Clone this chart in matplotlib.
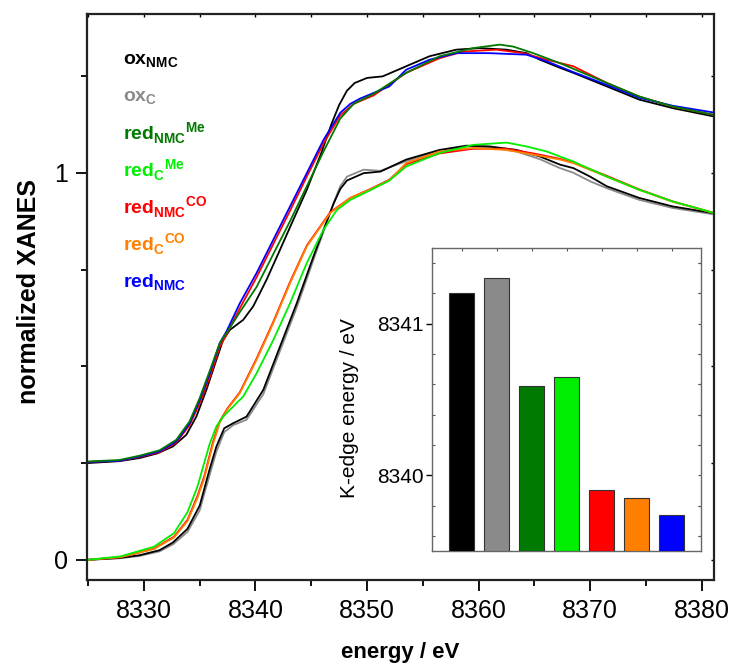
import matplotlib
matplotlib.use("Agg")
import matplotlib.pyplot as plt

plt.rcParams['font.family'] = ['Liberation Sans', 'DejaVu Sans']
plt.rcParams['mathtext.fontset'] = 'custom'
plt.rcParams['mathtext.rm'] = 'Liberation Sans'
plt.rcParams['mathtext.bf'] = 'Liberation Sans:bold'

# ---------------- data: XANES spectra (normalized) ----------------
OFFSET_UPPER = 0.25  # vertical offset of the NMC group

# upper group (NMC)
e_ox_nmc = [8324.9, 8327.8, 8329.6, 8331.2, 8332.6, 8333.8, 8334.7, 8335.6, 8336.5, 8337.1,
            8337.7, 8338.3, 8338.9, 8339.8, 8341.0, 8342.2, 8343.4, 8344.6, 8345.9, 8346.8,
            8347.5, 8348.2, 8348.9, 8350.0, 8351.4, 8353.5, 8355.6, 8358.0, 8360.1, 8362.5,
            8364.3, 8365.5, 8367.3, 8368.5, 8371.5, 8374.4, 8377.4, 8381.0]
mu_ox_nmc = [0.000, 0.005, 0.013, 0.025, 0.043, 0.073, 0.120, 0.189, 0.267, 0.318,
             0.344, 0.357, 0.370, 0.405, 0.474, 0.551, 0.629, 0.706, 0.801, 0.875,
             0.925, 0.962, 0.982, 0.995, 0.999, 1.025, 1.051, 1.068, 1.072, 1.068,
             1.059, 1.042, 1.021, 1.008, 0.973, 0.939, 0.917, 0.896]

e_red_nmc = [8324.9, 8327.8, 8329.6, 8331.4, 8332.9, 8334.1, 8335.0, 8335.9, 8336.8, 8337.4,
             8338.6, 8340.1, 8341.6, 8343.1, 8344.6, 8346.1, 8347.6, 8348.5, 8349.4, 8352.0,
             8353.5, 8355.6, 8358.0, 8361.0, 8364.3, 8366.1, 8368.5, 8371.5, 8374.4, 8377.4,
             8381.0]
mu_red_nmc = [0.003, 0.006, 0.017, 0.030, 0.056, 0.103, 0.163, 0.232, 0.310, 0.340,
              0.413, 0.491, 0.577, 0.663, 0.749, 0.835, 0.905, 0.928, 0.942, 0.973,
              1.016, 1.042, 1.059, 1.059, 1.055, 1.038, 1.010, 0.977, 0.944, 0.923,
              0.906]

e_red_nmc_co = [8324.9, 8327.8, 8329.6, 8331.4, 8332.9, 8334.1, 8335.0, 8335.9, 8336.8, 8337.4,
                8338.6, 8340.1, 8341.6, 8343.1, 8344.6, 8346.1, 8347.6, 8348.8, 8350.6, 8353.5,
                8356.5, 8358.6, 8361.6, 8364.0, 8366.1, 8368.5, 8371.5, 8374.4, 8377.4, 8381.0]
mu_red_nmc_co = [0.003, 0.006, 0.016, 0.028, 0.053, 0.098, 0.155, 0.222, 0.300, 0.332,
                 0.400, 0.480, 0.566, 0.652, 0.740, 0.826, 0.898, 0.928, 0.950, 1.008,
                 1.046, 1.063, 1.068, 1.059, 1.042, 1.025, 0.982, 0.947, 0.921, 0.900]

e_red_nmc_me = [8324.9, 8327.8, 8329.6, 8331.4, 8332.9, 8334.1, 8335.0, 8335.9, 8336.8, 8337.4,
                8338.6, 8340.1, 8341.6, 8343.1, 8344.6, 8346.1, 8347.6, 8348.8, 8350.6, 8353.5,
                8356.5, 8359.5, 8361.9, 8363.1, 8364.9, 8367.3, 8371.5, 8374.4, 8377.4, 8381.0]
mu_red_nmc_me = [0.004, 0.008, 0.019, 0.033, 0.060, 0.108, 0.168, 0.238, 0.310, 0.336,
                 0.390, 0.455, 0.540, 0.625, 0.715, 0.805, 0.890, 0.928, 0.954, 1.008,
                 1.051, 1.072, 1.081, 1.076, 1.059, 1.033, 0.982, 0.947, 0.921, 0.900]

# lower group (C)
e_ox_nmc_ref = [8324.9, 8327.8, 8329.6, 8331.4, 8332.6, 8333.9, 8335.0, 8335.9, 8336.5, 8337.2,
                8338.0, 8339.2, 8340.7, 8342.2, 8343.7, 8345.2, 8346.1, 8347.0, 8347.6, 8348.2,
                8349.7, 8351.2, 8353.5, 8356.5, 8358.9, 8361.0, 8363.4, 8365.5, 8367.3, 8368.5,
                8370.0, 8371.5, 8374.4, 8377.4, 8381.0]
mu_ox_nmc_ref = [0.000, 0.005, 0.012, 0.025, 0.045, 0.080, 0.140, 0.235, 0.293, 0.340,
                 0.353, 0.370, 0.439, 0.551, 0.663, 0.784, 0.853, 0.920, 0.958, 0.980,
                 0.999, 1.003, 1.034, 1.059, 1.070, 1.068, 1.059, 1.042, 1.021, 1.012,
                 0.990, 0.965, 0.935, 0.913, 0.896]

e_ox_c = e_ox_nmc_ref
mu_ox_c = [0.000, 0.004, 0.010, 0.022, 0.040, 0.072, 0.128, 0.220, 0.280, 0.330,
           0.348, 0.362, 0.428, 0.540, 0.652, 0.775, 0.848, 0.922, 0.965, 0.990,
           1.008, 1.005, 1.030, 1.057, 1.068, 1.065, 1.055, 1.035, 1.012, 1.000,
           0.978, 0.960, 0.930, 0.909, 0.893]

e_red_c_me = [8324.9, 8327.9, 8330.9, 8332.7, 8333.9, 8334.8, 8335.4, 8335.9, 8336.5, 8337.1,
              8338.0, 8338.9, 8340.1, 8341.6, 8343.1, 8344.6, 8346.1, 8347.3, 8348.5, 8350.3,
              8352.0, 8353.5, 8356.5, 8359.5, 8362.5, 8364.3, 8366.1, 8368.5, 8371.5, 8374.4,
              8377.4, 8381.0]
mu_red_c_me = [0.000, 0.009, 0.034, 0.069, 0.123, 0.189, 0.250, 0.300, 0.345, 0.370,
               0.396, 0.422, 0.482, 0.568, 0.663, 0.767, 0.853, 0.904, 0.930, 0.955,
               0.980, 1.016, 1.051, 1.072, 1.078, 1.068, 1.055, 1.029, 0.990, 0.956,
               0.926, 0.897]

e_red_c_co = [8324.9, 8327.9, 8330.9, 8332.7, 8333.9, 8334.8, 8335.4, 8336.2, 8336.8, 8337.5,
              8338.6, 8340.1, 8341.6, 8343.1, 8344.6, 8346.7, 8348.5, 8350.3, 8352.0, 8353.5,
              8356.5, 8359.5, 8362.5, 8364.9, 8367.3, 8368.5, 8371.5, 8374.4, 8377.4, 8381.0]
mu_red_c_co = [0.000, 0.007, 0.028, 0.058, 0.100, 0.160, 0.210, 0.300, 0.355, 0.390,
               0.431, 0.517, 0.612, 0.715, 0.810, 0.896, 0.935, 0.957, 0.980, 1.025,
               1.055, 1.064, 1.059, 1.047, 1.034, 1.025, 0.990, 0.956, 0.925, 0.897]

e_red_c_nmcco = e_red_c_co
mu_red_c_nmcco = [0.000, 0.007, 0.029, 0.060, 0.103, 0.165, 0.215, 0.305, 0.358, 0.392,
                  0.433, 0.520, 0.615, 0.718, 0.812, 0.898, 0.935, 0.958, 0.982, 1.022,
                  1.050, 1.062, 1.062, 1.050, 1.036, 1.026, 0.992, 0.957, 0.926, 0.897]

# legend labels
labels = [r'$\mathbf{ox}_{\mathbf{NMC}}$',
          r'$\mathbf{ox}_{\mathbf{C}}$',
          r'$\mathbf{red}_{\mathbf{NMC}}{}^{\mathbf{Me}}$',
          r'$\mathbf{red}_{\mathbf{C}}{}^{\mathbf{Me}}$',
          r'$\mathbf{red}_{\mathbf{NMC}}{}^{\mathbf{CO}}$',
          r'$\mathbf{red}_{\mathbf{C}}{}^{\mathbf{CO}}$',
          r'$\mathbf{red}_{\mathbf{NMC}}$']
colors = ['#000000', '#8a8a8a', '#007a00', '#00ee00', '#ff0000', '#ff8000', '#0000ff']

# inset: K-edge energies
kedge = [8341.20, 8341.30, 8340.59, 8340.65, 8339.90, 8339.85, 8339.74]
bar_pos = [1, 2, 3, 4, 5, 6, 7]

# ---------------- figure ----------------
fig = plt.figure(figsize=(7.36, 6.66), dpi=100)
ax = fig.add_axes([0.1182, 0.1291, 0.8519, 0.8498])

lw = 1.3
# lower group
ax.plot(e_ox_c, mu_ox_c, color='#8a8a8a', lw=lw)
ax.plot(e_ox_nmc_ref, mu_ox_nmc_ref, color='#000000', lw=lw)
ax.plot(e_red_c_nmcco, mu_red_c_nmcco, color='#ff0000', lw=lw)
ax.plot(e_red_c_co, mu_red_c_co, color='#ff8000', lw=lw)
ax.plot(e_red_c_me, mu_red_c_me, color='#00ee00', lw=lw)
# upper group
ax.plot(e_ox_nmc, [v + OFFSET_UPPER for v in mu_ox_nmc], color='#000000', lw=lw)
ax.plot(e_red_nmc_co, [v + OFFSET_UPPER for v in mu_red_nmc_co], color='#ff0000', lw=lw)
ax.plot(e_red_nmc, [v + OFFSET_UPPER for v in mu_red_nmc], color='#0000ff', lw=lw)
ax.plot(e_red_nmc_me, [v + OFFSET_UPPER for v in mu_red_nmc_me], color='#007a00', lw=lw)

ax.set_xlim(8324.9, 8381.1)
ax.set_ylim(-0.052, 1.41)
ax.set_xticks([8330, 8340, 8350, 8360, 8370, 8380])
ax.set_xticks([8325, 8335, 8345, 8355, 8365, 8375], minor=True)
ax.set_yticks([0, 1])
ax.set_yticks([0.25, 0.5, 0.75, 1.25], minor=True)
ax.tick_params(axis='both', which='major', direction='out', length=8, width=1.3,
               labelsize=18, pad=6)
ax.tick_params(axis='both', which='minor', direction='out', length=4.5, width=1.3)
for s in ax.spines.values():
    s.set_linewidth(1.6)
    s.set_color('#222222')

# inward short ticks on top and right
axt = ax.secondary_xaxis('top')
axt.set_xticks([8325, 8330, 8335, 8340, 8345, 8350, 8355, 8360, 8365, 8370, 8375, 8380])
axt.tick_params(direction='in', length=2.5, width=1.0, labeltop=False)
axt.spines['top'].set_visible(False)
axr = ax.secondary_yaxis('right')
axr.set_yticks([0, 0.25, 0.5, 0.75, 1.0, 1.25])
axr.tick_params(direction='in', length=2.5, width=1.0, labelright=False)
axr.spines['right'].set_visible(False)

ax.set_xlabel('energy / eV', fontsize=16, fontweight='bold', labelpad=13)
ax.set_ylabel('normalized XANES', fontsize=18, fontweight='bold')
ax.yaxis.set_label_coords(-0.073, 0.51)

# colored legend text
ybase = [0.910, 0.845, 0.777, 0.712, 0.647, 0.581, 0.516]
for lab, col, yb in zip(labels, colors, ybase):
    ax.text(0.057, yb, lab, transform=ax.transAxes, color=col, fontsize=14,
            ha='left', va='baseline')

# ---------------- inset ----------------
ins = fig.add_axes([0.5870, 0.1727, 0.3655, 0.4550])
ins.bar(bar_pos, [k - 8339.5 for k in kedge], bottom=8339.5, width=0.72,
        color=colors, edgecolor='#333333', linewidth=0.8, zorder=3)
ins.set_xlim(0.15, 7.84)
ins.set_ylim(8339.5, 8341.5)
ins.set_yticks([8340, 8341])
ins.set_yticks([8339.6, 8339.8, 8340.2, 8340.4, 8340.6, 8340.8, 8341.2, 8341.4], minor=True)
ins.set_yticklabels(['8340', '8341'])
ins.set_xticks(bar_pos)
ins.tick_params(axis='x', which='both', bottom=False, top=True, labelbottom=False,
                direction='in', length=2.5, width=0.8, color='#555555')
ins.tick_params(axis='y', which='major', direction='out', length=4, width=1.0,
                labelsize=15, pad=2, right=False)
ins.tick_params(axis='y', which='minor', direction='in', length=2, width=0.8,
                left=True, right=True, color='#555555')
insr = ins.secondary_yaxis('right')
insr.set_yticks([8339.6, 8339.8, 8340.0, 8340.2, 8340.4, 8340.6, 8340.8, 8341.0, 8341.2, 8341.4])
insr.tick_params(direction='in', length=2, width=0.8, color='#555555', labelright=False)
insr.spines['right'].set_visible(False)
for s in ins.spines.values():
    s.set_linewidth(1.0)
    s.set_color('#666666')
ins.set_ylabel('K-edge energy / eV', fontsize=15)
ins.yaxis.set_label_coords(-0.27, 0.47)

fig.savefig('out.png', dpi=100)
